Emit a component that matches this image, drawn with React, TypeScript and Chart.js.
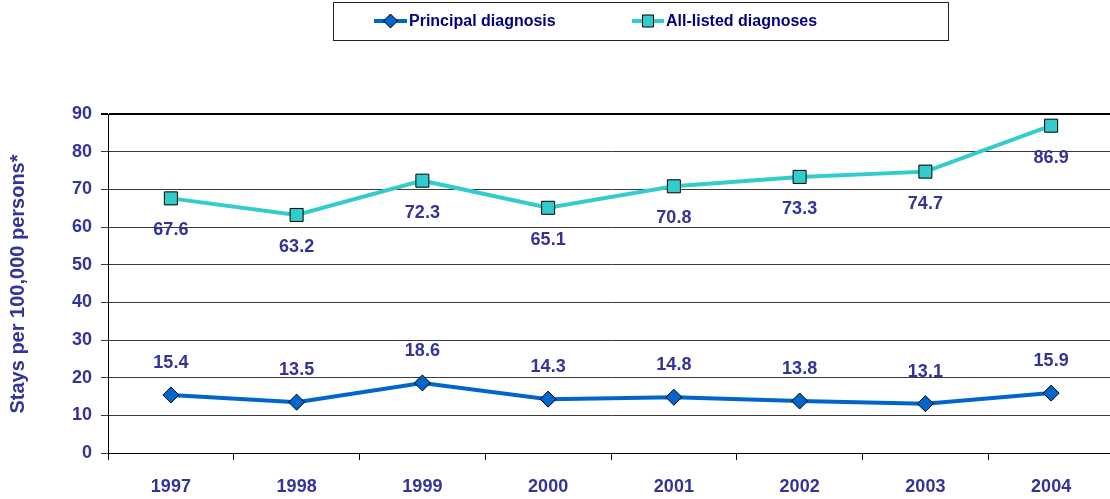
import React, { useEffect, useRef } from "react";
import { Chart, registerables } from "chart.js";

Chart.register(...registerables);

const years = ["1997", "1998", "1999", "2000", "2001", "2002", "2003", "2004"];
const principal = [15.4, 13.5, 18.6, 14.3, 14.8, 13.8, 13.1, 15.9];
const allListed = [67.6, 63.2, 72.3, 65.1, 70.8, 73.3, 74.7, 86.9];
const seriesNames = ["Principal diagnosis", "All-listed diagnoses"];
const yTitle = "Stays per 100,000 persons*";

const BLUE = "#0066CC";
const CYAN = "#33CCCC";
const LABEL = "#333399";
const LEGEND_TEXT = "#000080";
const FONT = "'Liberation Sans', Arial, sans-serif";

const extrasPlugin = {
  id: "extras",
  afterDatasetsDraw(chart: any) {
    const ctx = chart.ctx;
    ctx.save();
    ctx.font = `bold 18px ${FONT}`;
    ctx.fillStyle = LABEL;
    ctx.textAlign = "center";
    ctx.textBaseline = "middle";
    chart.data.datasets.forEach((ds: any, di: number) => {
      const meta = chart.getDatasetMeta(di);
      meta.data.forEach((pt: any, i: number) => {
        const v = ds.data[i];
        const dy = di === 0 ? -32 : 32;
        ctx.fillText(v.toFixed(1), pt.x, pt.y + dy);
      });
    });
    ctx.restore();
  },
  afterDraw(chart: any) {
    const ctx = chart.ctx;
    ctx.save();
    // legend box
    ctx.strokeStyle = "#222";
    ctx.lineWidth = 1;
    ctx.strokeRect(333.5, 2.5, 615, 38);
    const items = [
      { x1: 374, x2: 407, tx: 409, ds: chart.data.datasets[0] },
      { x1: 632, x2: 664, tx: 666, ds: chart.data.datasets[1] },
    ];
    const ly = 21;
    items.forEach((it) => {
      ctx.strokeStyle = it.ds.borderColor;
      ctx.lineWidth = 4;
      ctx.beginPath();
      ctx.moveTo(it.x1, ly);
      ctx.lineTo(it.x2, ly);
      ctx.stroke();
      const cx = (it.x1 + it.x2) / 2;
      ctx.fillStyle = it.ds.pointBackgroundColor;
      ctx.strokeStyle = "#000";
      ctx.lineWidth = 1;
      ctx.beginPath();
      if (it.ds.pointStyle === "rectRot") {
        ctx.moveTo(cx, ly - 7);
        ctx.lineTo(cx + 7, ly);
        ctx.lineTo(cx, ly + 7);
        ctx.lineTo(cx - 7, ly);
        ctx.closePath();
      } else {
        ctx.rect(cx - 5.5, ly - 6, 11, 12);
      }
      ctx.fill();
      ctx.stroke();
      ctx.fillStyle = LEGEND_TEXT;
      ctx.font = `bold 16px ${FONT}`;
      ctx.textAlign = "left";
      ctx.textBaseline = "middle";
      ctx.fillText(it.ds.label, it.tx, ly + 1);
    });
    // y axis title
    ctx.translate(18, 284);
    ctx.rotate(-Math.PI / 2);
    ctx.font = `bold 20px ${FONT}`;
    ctx.fillStyle = LABEL;
    ctx.textAlign = "center";
    ctx.textBaseline = "middle";
    ctx.fillText(yTitle, 0, 0);
    ctx.restore();
  },
};

export default function App() {
  const ref = useRef<HTMLCanvasElement>(null);
  useEffect(() => {
    document.body.style.margin = "0";
    document.body.style.overflow = "hidden";
    document.documentElement.style.overflow = "hidden";
    const chart = new Chart(ref.current as HTMLCanvasElement, {
      type: "line",
      data: {
        labels: years,
        datasets: [
          {
            label: seriesNames[0],
            data: principal,
            borderColor: BLUE,
            backgroundColor: BLUE,
            pointBackgroundColor: BLUE,
            pointBorderColor: "#000",
            pointBorderWidth: 1,
            pointStyle: "rectRot",
            pointRadius: 8,
            borderWidth: 4,
            tension: 0,
          },
          {
            label: seriesNames[1],
            data: allListed,
            borderColor: CYAN,
            backgroundColor: CYAN,
            pointBackgroundColor: CYAN,
            pointBorderColor: "#000",
            pointBorderWidth: 1,
            pointStyle: "rect",
            pointRadius: 9.2,
            borderWidth: 4,
            tension: 0,
          },
        ],
      },
      options: {
        responsive: false,
        animation: false,
        layout: { padding: { top: 114, right: 16, left: 0, bottom: 0 } },
        plugins: { legend: { display: false }, tooltip: { enabled: false } },
        scales: {
          x: {
            offset: true,
            grid: {
              display: true,
              drawOnChartArea: false,
              drawTicks: true,
              tickLength: 7,
              color: "#000",
              offset: true,
            },
            border: { display: true, color: "#000", width: 1 },
            ticks: {
              color: LABEL,
              font: { family: FONT, size: 18, weight: "bold" },
              padding: 16,
              maxRotation: 0,
            },
            afterFit: (s: any) => {
              s.height = 46;
            },
          },
          y: {
            min: 0,
            max: 90,
            ticks: {
              stepSize: 10,
              color: LABEL,
              font: { family: FONT, size: 18, weight: "bold" },
              padding: 9,
            },
            grid: {
              color: (c: any) => (c.tick && c.tick.value === 90 ? "#000" : "#3a3a3a"),
              lineWidth: (c: any) => (c.tick && c.tick.value === 90 ? 2 : 1),
              tickLength: 7,
              drawTicks: true,
            },
            border: { display: true, color: "#000", width: 1 },
            afterFit: (s: any) => {
              s.width = 108;
            },
          },
        },
      },
      plugins: [extrasPlugin],
    } as any);
    return () => chart.destroy();
  }, []);
  return (
    <div style={{ position: "absolute", left: 0, top: 0, width: 1130, height: 499, overflow: "hidden" }}>
      <canvas ref={ref} width={1130} height={499} style={{ display: "block" }} />
    </div>
  );
}
